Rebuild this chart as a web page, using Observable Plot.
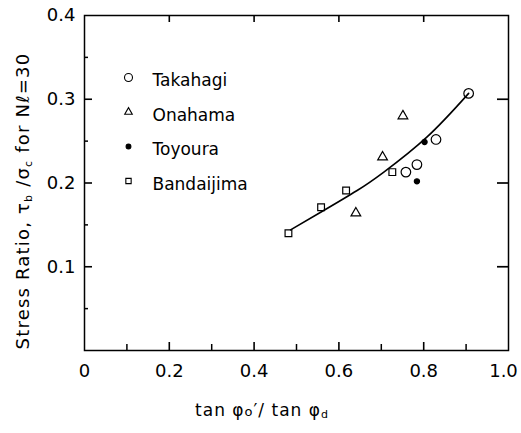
<!DOCTYPE html>
<html><head><meta charset="utf-8">
<script src="https://cdn.jsdelivr.net/npm/d3@7"></script>
<script src="https://cdn.jsdelivr.net/npm/@observablehq/plot@0.6"></script>
<style>body{margin:0;background:#fff}</style>
</head><body><div id="chart"></div>
<script>
const seriesNames = ["Takahagi", "Onahama", "Toyoura", "Bandaijima"];
const takahagiX = [0.906, 0.829, 0.784, 0.758];
const takahagiY = [0.307, 0.252, 0.222, 0.213];
const onahamaX = [0.751, 0.703, 0.640];
const onahamaY = [0.280, 0.231, 0.164];
const toyouraX = [0.802, 0.784];
const toyouraY = [0.249, 0.202];
const bandaijimaX = [0.481, 0.558, 0.617, 0.726];
const bandaijimaY = [0.140, 0.171, 0.191, 0.213];
const curveX = [0.486, 0.557, 0.643, 0.706, 0.808, 0.906];
const curveY = [0.144, 0.165, 0.191, 0.213, 0.255, 0.307];
const xTickLabels = [0, 0.2, 0.4, 0.6, 0.8];
const xLastLabel = [1.0];
const yTickLabels = [0.1, 0.2, 0.3, 0.4];
const xMinorTicks = [0.1, 0.3, 0.5, 0.7, 0.9];
const xMajorTicks = [0.2, 0.4, 0.6, 0.8];
const yMajorTicks = [0.1, 0.2, 0.3];
const yMinorTicks = [0.05, 0.15, 0.25, 0.35];

const W = 521, H = 433, ML = 84, MR = 13, MT = 15, MB = 83;
const FW = W - ML - MR, FH = H - MT - MB;

const pts = (xs, ys, s) => xs.map((x, i) => ({x, y: ys[i], s}));
const styles = {
  Takahagi: {symbol: "circle", fill: "none", r: 4.8},
  Onahama: {symbol: "triangle", fill: "none", r: 3.6},
  Toyoura: {symbol: "circle", fill: "black", r: 2.6},
  Bandaijima: {symbol: "square", fill: "none", r: 3.8}
};
const groups = {
  Takahagi: pts(takahagiX, takahagiY, "Takahagi"),
  Onahama: pts(onahamaX, onahamaY, "Onahama"),
  Toyoura: pts(toyouraX, toyouraY, "Toyoura"),
  Bandaijima: pts(bandaijimaX, bandaijimaY, "Bandaijima")
};
const curve = curveX.map((x, i) => ({x, y: curveY[i]}));
const lblStyle = {fontSize: 18, fill: "black", letterSpacing: "1.5px"};
const fmt = d => d === 0 ? "0" : d.toFixed(1);

const marks = [
  Plot.frame({stroke: "black", strokeWidth: 1.5}),
  Plot.tickX(xMinorTicks, {x: d => d, insetTop: FH - 6, stroke: "black", strokeWidth: 1.5}),
  Plot.tickX(xMajorTicks, {x: d => d, insetTop: FH - 8, stroke: "black", strokeWidth: 1.6}),
  Plot.tickX(xMajorTicks, {x: d => d, insetBottom: FH - 7, stroke: "black", strokeWidth: 1.6}),
  Plot.tickY(yMajorTicks, {y: d => d, insetRight: FW - 8, stroke: "black", strokeWidth: 1.6}),
  Plot.tickY(yMinorTicks, {y: d => d, insetRight: FW - 4, stroke: "black", strokeWidth: 1.5}),
  Plot.tickY(yMajorTicks, {y: d => d, insetLeft: FW - 11, stroke: "black", strokeWidth: 1.7}),
  Plot.axisX({ticks: xTickLabels, anchor: "bottom", tickSize: 0, tickPadding: 14, tickFormat: fmt, ...lblStyle, label: null}),
  Plot.axisX({ticks: xLastLabel, anchor: "bottom", tickSize: 0, tickPadding: 14, dx: -5, tickFormat: fmt, ...lblStyle, label: null}),
  Plot.axisY({ticks: yTickLabels, anchor: "left", tickSize: 0, tickPadding: 9, tickFormat: d => d.toFixed(1), ...lblStyle, label: null}),
  Plot.line(curve, {x: "x", y: "y", curve: "natural", stroke: "black", strokeWidth: 1.6})
];
seriesNames.forEach((name, i) => {
  const st = styles[name];
  marks.push(Plot.dot(groups[name], {x: "x", y: "y", symbol: () => st.symbol, r: st.r, fill: st.fill, stroke: "black", strokeWidth: 1.2}));
  marks.push(Plot.dot([name], {frameAnchor: "top-left", dx: 44, dy: 62 + i * 34.5, symbol: () => st.symbol, r: Math.max(st.r - 0.8, 2.4), fill: st.fill, stroke: "black", strokeWidth: 1.1}));
  marks.push(Plot.text([name], {frameAnchor: "top-left", dx: 68, dy: 58.5 + i * 34.5, text: d => d, textAnchor: "start", fontSize: 17, letterSpacing: "0.8px", fill: "black"}));
});

const chart = Plot.plot({
  width: W, height: H,
  marginLeft: ML, marginRight: MR, marginTop: MT, marginBottom: MB,
  style: {fontFamily: "DejaVu Sans", color: "black", background: "white"},
  x: {domain: [0, 1], label: null},
  y: {domain: [0, 0.4], label: null},
  marks
});
const svg = d3.select(chart);
const yl = svg.append("text").attr("transform", "translate(29,201) rotate(-90)")
  .attr("text-anchor", "middle").attr("font-size", 18).attr("letter-spacing", "1.2px")
  .attr("font-family", "DejaVu Sans").attr("fill", "black");
yl.append("tspan").text("Stress Ratio, τ");
yl.append("tspan").attr("font-size", 11).attr("dy", 3).text("b");
yl.append("tspan").attr("dy", -3).text(" /σ");
yl.append("tspan").attr("font-size", 11).attr("dy", 3).text("c");
yl.append("tspan").attr("dy", -3).text(" for Nℓ=30");
const xl = svg.append("text").attr("x", 262).attr("y", 416)
  .attr("text-anchor", "middle").attr("font-size", 17).attr("letter-spacing", "1px")
  .attr("font-family", "DejaVu Sans").attr("fill", "black");
xl.append("tspan").text("tan φ");
xl.append("tspan").attr("font-size", 13).text("o");
xl.append("tspan").text("′/ tan φ");
xl.append("tspan").attr("font-size", 11).attr("dy", 2).text("d");
document.getElementById("chart").append(chart);
</script></body></html>
